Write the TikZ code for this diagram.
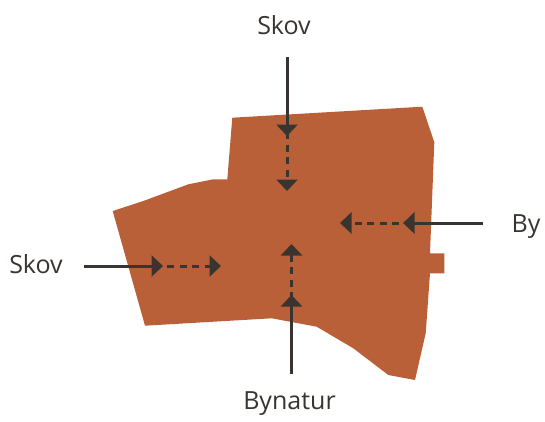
\documentclass[tikz,border=0pt]{standalone}
\usepackage{fontspec}
\setmainfont{Open Sans}
\usetikzlibrary{arrows.meta}
\definecolor{areafill}{HTML}{BA6038}
\definecolor{arrowgray}{HTML}{3A3431}
\tikzset{
  lbl/.style={text=arrowgray, font=\fontsize{25}{29}\selectfont, anchor=base, inner sep=0pt},
  solidarr/.style={draw=arrowgray, line width=3pt, -{Triangle[width=21pt,length=11.5pt]}},
  dasharr/.style={draw=arrowgray, line width=3pt, dash pattern=on 7pt off 5.5pt, -{Triangle[width=21pt,length=11.5pt]}},
}
\begin{document}
\begin{tikzpicture}[x=1pt,y=-1pt]
\useasboundingbox (0,0) rectangle (545,421);
% area
\fill[areafill] (232.3,117.7) -- (422.3,106.7) -- (434.3,142.3) -- (430,253.3)
  -- (444.3,253.3) -- (444.3,273.3) -- (430,273.3) -- (425.7,333.3)
  -- (415,380) -- (388.3,375) -- (353.3,348.3) -- (316.7,326.7)
  -- (271.7,318.3) -- (145,325.7) -- (112.7,211) -- (143.3,201)
  -- (188.3,184.3) -- (213.3,179.3) -- (227.3,179.3) -- cycle;
% labels
\node[lbl] (top) at (284,34) {Skov};
\node[lbl] (left) at (36,273) {Skov};
\node[lbl] (right) at (526,232) {By};
\node[lbl] (bottom) at (289.5,409) {Bynatur};
% arrow points
\coordinate (t0) at (287,57);   \coordinate (t1) at (287,136);   \coordinate (t2) at (287,191);
\coordinate (l0) at (84,266);   \coordinate (l1) at (163,266);   \coordinate (l2) at (221,266);
\coordinate (r0) at (483,223);  \coordinate (r1) at (403,223);   \coordinate (r2) at (340,223);
\coordinate (b0) at (291.5,374); \coordinate (b1) at (291.5,295); \coordinate (b2) at (291.5,244);
\draw[solidarr] (t0) -- (t1);
\draw[dasharr] ([yshift=4pt]t1) -- (t2);
\draw[solidarr] (l0) -- (l1);
\draw[dasharr] ([xshift=4pt]l1) -- (l2);
\draw[solidarr] (r0) -- (r1);
\draw[dasharr] ([xshift=-4pt]r1) -- (r2);
\draw[solidarr] (b0) -- (b1);
\draw[dasharr] ([yshift=-4pt]b1) -- (b2);
\end{tikzpicture}
\end{document}
